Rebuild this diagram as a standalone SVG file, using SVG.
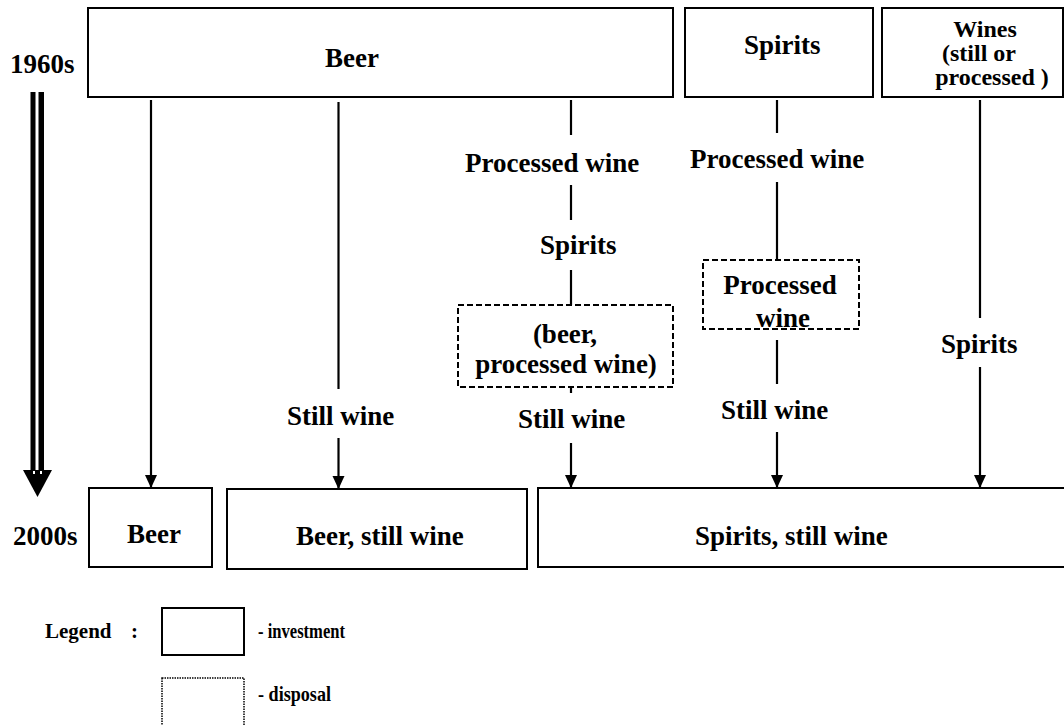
<svg xmlns="http://www.w3.org/2000/svg" width="1064" height="725" viewBox="0 0 1064 725">
<style>
.box{fill:#fff;stroke:#000;stroke-width:2}
.dbox{fill:none;stroke:#000;stroke-width:2;stroke-dasharray:6 3}
.t{font-family:"Liberation Serif","Times New Roman",serif;font-weight:bold;font-size:27px;fill:#000}
.w{font-family:"Liberation Serif","Times New Roman",serif;font-weight:bold;font-size:24px;fill:#000}
.s{font-family:"Liberation Serif","Times New Roman",serif;font-weight:bold;font-size:21px;fill:#000}
.lg{font-family:"Liberation Serif","Times New Roman",serif;font-weight:bold;font-size:21px;fill:#000}
.ln{stroke:#000;stroke-width:2.2;fill:none}
</style>
<defs>
<marker id="ah" markerUnits="userSpaceOnUse" markerWidth="14" markerHeight="14" viewBox="0 0 14 14" refX="7" refY="13" orient="0">
<path d="M1,0 L13,0 L7,13 Z" fill="#000"/>
</marker>
</defs>
<rect width="1064" height="725" fill="#fff"/>

<g id="labels-time">
<text class="t" x="10" y="73">1960s</text>
<text class="t" x="13" y="545">2000s</text>
</g>

<g id="time-arrow">
<rect x="30.5" y="92" width="5" height="380" fill="#000"/>
<rect x="38.5" y="92" width="5.5" height="380" fill="#000"/>
<path d="M23,470 L52,470 L37.5,497 Z" fill="#000"/>
<rect x="33" y="471" width="2" height="3" fill="#fff"/>
<rect x="40" y="471" width="2" height="3" fill="#fff"/>
</g>

<g id="node-beer-1960">
<rect class="box" x="88" y="8" width="585" height="89"/>
<text class="t" x="325" y="67">Beer</text>
</g>
<g id="node-spirits-1960">
<rect class="box" x="685" y="8" width="188" height="89"/>
<text class="t" x="744" y="54">Spirits</text>
</g>
<g id="node-wines-1960">
<rect class="box" x="882" y="8" width="181" height="89"/>
<text class="w" x="985" y="37" text-anchor="middle">Wines</text>
<text class="w" x="979" y="61" text-anchor="middle">(still or</text>
<text class="w" x="992" y="85" text-anchor="middle">processed )</text>
</g>

<g id="node-beer-2000">
<rect class="box" x="89" y="488" width="123" height="79"/>
<text class="t" x="127" y="543">Beer</text>
</g>
<g id="node-beer-stillwine-2000">
<rect class="box" x="227" y="489" width="300" height="80"/>
<text class="t" x="296" y="545">Beer, still wine</text>
</g>
<g id="node-spirits-stillwine-2000">
<rect class="box" x="538" y="488" width="540" height="79"/>
<text class="t" x="695" y="545">Spirits, still wine</text>
</g>

<g id="node-disposal-beer-pw">
<rect class="dbox" x="458" y="305" width="215" height="82"/>
<text class="t" x="565" y="343" text-anchor="middle">(beer,</text>
<text class="t" x="566" y="373" text-anchor="middle">processed wine)</text>
</g>
<g id="node-disposal-pw">
<rect class="dbox" x="703" y="260" width="156" height="69"/>
<text class="t" x="780" y="294" text-anchor="middle">Processed</text>
<text class="t" x="783" y="327" text-anchor="middle">wine</text>
</g>

<g id="connectors">
<line class="ln" x1="151" y1="100" x2="151" y2="488" marker-end="url(#ah)"/>

<line class="ln" x1="338.5" y1="102" x2="338.5" y2="389"/>
<text class="t" x="287" y="425">Still wine</text>
<line class="ln" x1="338.5" y1="438" x2="338.5" y2="489" marker-end="url(#ah)"/>

<line class="ln" x1="571" y1="100" x2="571" y2="135"/>
<text class="t" x="465" y="172">Processed wine</text>
<line class="ln" x1="571" y1="185" x2="571" y2="220"/>
<text class="t" x="540" y="254">Spirits</text>
<line class="ln" x1="571" y1="270" x2="571" y2="305"/>
<line class="ln" x1="571" y1="387" x2="571" y2="393"/>
<text class="t" x="518" y="428">Still wine</text>
<line class="ln" x1="571" y1="443" x2="571" y2="488" marker-end="url(#ah)"/>

<line class="ln" x1="777" y1="100" x2="777" y2="133"/>
<text class="t" x="690" y="168">Processed wine</text>
<line class="ln" x1="777" y1="182" x2="777" y2="260"/>
<line class="ln" x1="777" y1="340" x2="777" y2="384"/>
<text class="t" x="721" y="419">Still wine</text>
<line class="ln" x1="777" y1="432" x2="777" y2="488" marker-end="url(#ah)"/>

<line class="ln" x1="980" y1="100" x2="980" y2="318"/>
<text class="t" x="941" y="353">Spirits</text>
<line class="ln" x1="980" y1="367" x2="980" y2="488" marker-end="url(#ah)"/>
</g>

<g id="legend">
<text class="lg" x="45" y="638">Legend</text>
<text class="lg" x="131" y="638">:</text>
<rect class="box" x="162" y="608" width="82" height="47" stroke-width="1.5"/>
<text class="s" x="258" y="638" textLength="87" lengthAdjust="spacingAndGlyphs">- investment</text>
<rect x="162" y="678" width="82" height="50" fill="none" stroke="#000" stroke-width="1.5" stroke-dasharray="1.5 1"/>
<text class="s" x="258" y="701" textLength="73" lengthAdjust="spacingAndGlyphs">- disposal</text>
</g>
</svg>
